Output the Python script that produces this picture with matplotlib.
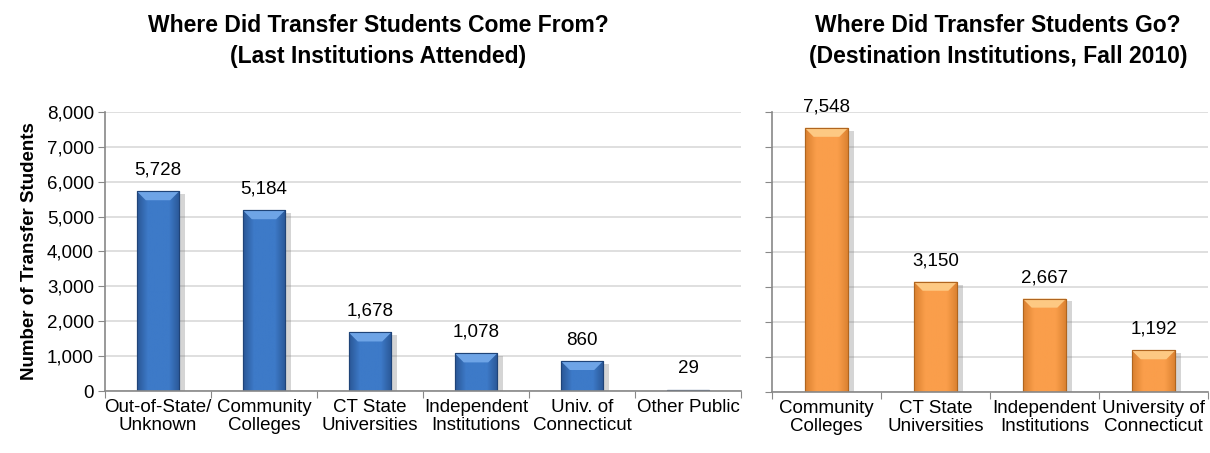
import numpy as np
import matplotlib.pyplot as plt
import matplotlib.patheffects as pe
from matplotlib.colors import LinearSegmentedColormap
from matplotlib.patches import Polygon

# datos
origen_cats = ["Out-of-State/\nUnknown", "Community\nColleges", "CT State\nUniversities",
               "Independent\nInstitutions", "Univ. of\nConnecticut", "Other Public"]
origen_vals = [5728, 5184, 1678, 1078, 860, 29]

destino_cats = ["Community\nColleges", "CT State\nUniversities", "Independent\nInstitutions",
                "University of\nConnecticut"]
destino_vals = [7548, 3150, 2667, 1192]

y_ticks = [0, 1000, 2000, 3000, 4000, 5000, 6000, 7000, 8000]

plt.rcParams["font.family"] = ["Liberation Sans", "DejaVu Sans"]

W, H = 1210, 453
fig = plt.figure(figsize=(W / 100, H / 100), dpi=100)


def dibujar(ax, cats, vals, oscuro, medio, claro, borde, etiquetas_y, alto_px):
    n = len(cats)
    x = list(range(n))
    ancho = 0.4
    ax.set_xlim(-0.5, n - 0.5)
    ax.set_ylim(0, 8000)
    sombra = [pe.SimplePatchShadow(offset=(4, -2), shadow_rgbFace="#777777", alpha=0.3), pe.Normal()]
    barras = ax.bar(x, vals, width=ancho, color=medio, edgecolor=borde, linewidth=0.8,
                    zorder=3, path_effects=sombra)
    # degradado horizontal y bisel superior
    cmap = LinearSegmentedColormap.from_list("g", [oscuro, medio, medio, medio, oscuro])
    grad = np.linspace(0, 1, 64).reshape(1, -1)
    ancho_px = fig.get_figwidth() * 100 * ax.get_position().width / n * ancho
    bisel_x = ancho * 9 / ancho_px
    bisel_y = 8000 * 9 / alto_px
    for b, v in zip(barras, vals):
        x0, x1 = b.get_x(), b.get_x() + b.get_width()
        im = ax.imshow(grad, cmap=cmap, extent=[x0, x1, 0, v], aspect="auto", zorder=3.1)
        im.set_clip_path(b)
        if v > bisel_y * 1.5:
            ax.add_patch(Polygon([[x0, v], [x1, v], [x1 - bisel_x, v - bisel_y], [x0 + bisel_x, v - bisel_y]],
                                 closed=True, facecolor=claro, edgecolor="none", zorder=3.2))
        ax.add_patch(Polygon([[x0, 0], [x1, 0], [x1, v], [x0, v]], closed=True,
                             facecolor="none", edgecolor=borde, linewidth=0.8, zorder=3.3))
        ax.annotate(f"{v:,}", xy=((x0 + x1) / 2, v), xytext=(0, 9),
                    textcoords="offset points", ha="center", va="bottom", fontsize=13.5)
    ax.set_aspect("auto")
    ax.set_xlim(-0.5, n - 0.5)
    ax.set_ylim(0, 8000)
    ax.set_yticks(y_ticks)
    if etiquetas_y:
        ax.set_yticklabels([f"{t:,}" for t in y_ticks], fontsize=13.5)
    else:
        ax.set_yticklabels([])
    ax.set_xticks([i - 0.5 for i in range(n + 1)])
    ax.set_xticklabels([])
    ax.set_xticks(x, minor=True)
    ax.set_xticklabels(cats, minor=True, fontsize=13.5, linespacing=1.05)
    ax.tick_params(axis="x", which="minor", length=0, pad=6)
    ax.tick_params(axis="x", which="major", length=5, color="#888888")
    ax.tick_params(axis="y", length=5, color="#888888", pad=3)
    ax.grid(axis="y", color="#d9d9d9", linewidth=1.2, zorder=0)
    for s in ["top", "right"]:
        ax.spines[s].set_visible(False)
    for s in ["left", "bottom"]:
        ax.spines[s].set_color("#888888")
        ax.spines[s].set_linewidth(1.2)
        ax.spines[s].set_zorder(4)


ax1 = fig.add_axes([105 / W, 1 - 391 / H, 636 / W, 279 / H])
dibujar(ax1, origen_cats, origen_vals, "#2a5796", "#3d7ac8", "#6ea4e6", "#1f4478", True, 279)
ax1.set_ylabel("Number of Transfer Students", fontsize=13.5, fontweight="bold", labelpad=6)

ax2 = fig.add_axes([772 / W, 1 - 392 / H, 436 / W, 280 / H])
dibujar(ax2, destino_cats, destino_vals, "#d9802f", "#fa9e4b", "#fdc983", "#b0651f", False, 280)

fig.text(378 / W, 1 - 41 / H, "Where Did Transfer Students Come From?\n(Last Institutions Attended)",
         ha="center", va="center", fontsize=16.5, fontweight="bold", linespacing=1.4)
fig.text(998 / W, 1 - 41 / H, "Where Did Transfer Students Go?\n(Destination Institutions, Fall 2010)",
         ha="center", va="center", fontsize=16.5, fontweight="bold", linespacing=1.4)

fig.savefig("out.png", dpi=100)
